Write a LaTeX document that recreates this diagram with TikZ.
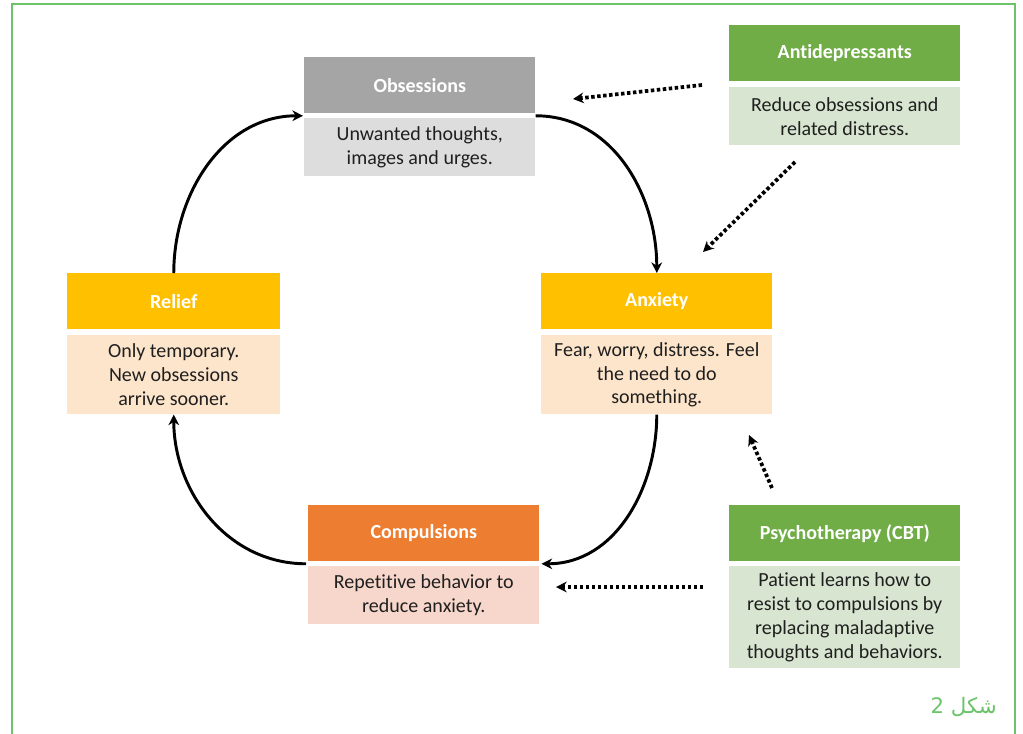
\documentclass[tikz,border=0pt]{standalone}
\usepackage{fontspec}
\setmainfont{Carlito}[Ligatures={NoCommon}]
\newfontfamily\arabicfont[Script=Arabic]{DejaVu Sans}
\TeXXeTstate=1
\usetikzlibrary{arrows.meta,calc}
\definecolor{frameG}{HTML}{6CC46A}
\definecolor{grayH}{HTML}{A5A5A5}
\definecolor{grayB}{HTML}{DDDDDD}
\definecolor{greenH}{HTML}{70AD47}
\definecolor{greenB}{HTML}{D8E5D0}
\definecolor{yellowH}{HTML}{FFC000}
\definecolor{yellowB}{HTML}{FDE5CC}
\definecolor{orangeH}{HTML}{ED7D31}
\definecolor{orangeB}{HTML}{F7D6CB}
\begin{document}
\begin{tikzpicture}[x=0.75pt,y=-0.75pt,
  hdr/.style={anchor=north west, inner sep=0pt, minimum width=173.25pt, minimum height=42pt,
    text=white, font=\fontsize{15}{17}\selectfont\bfseries},
  bdy/.style={anchor=north west, inner sep=0pt, minimum width=173.25pt, align=center,
    text=black!88, font=\fontsize{15}{17.8}\selectfont},
  cyc/.style={-{Stealth[length=8pt,width=8pt]}, line width=2.2pt},
  dotarrow/.style={-{Stealth[length=8pt,width=8pt]}, line width=2.8pt, dash pattern=on 2.6pt off 1.9pt},
]
\useasboundingbox (0,0) rectangle (1023,733);
\fill[white] (0,0) rectangle (1023,733);
\draw[frameG, line width=2.2pt] (12,740) -- (12,4) -- (1015,4) -- (1015,740);

% boxes
\node[hdr, fill=grayH] (hObs) at (304,57) {Obsessions};
\node[bdy, fill=grayB, minimum height=43.5pt] (bObs) at (304,118) {Unwanted thoughts,\\images and urges.};

\node[hdr, fill=greenH] (hAnti) at (729,25) {Antidepressants};
\node[bdy, fill=greenB, minimum height=43.5pt] (bAnti) at (729,87) {Reduce obsessions and\\related distress.};

\node[hdr, fill=yellowH, minimum width=159.75pt] (hRel) at (67,273) {Relief};
\node[bdy, fill=yellowB, minimum width=159.75pt, minimum height=59.25pt] (bRel) at (67,335) {Only temporary.\\New obsessions\\arrive sooner.};

\node[hdr, fill=yellowH] (hAnx) at (541,273) {Anxiety};
\node[bdy, fill=yellowB, minimum height=59.25pt] (bAnx) at (541,335) {Fear, worry, distress. Feel\\the need to do\\something.};

\node[hdr, fill=orangeH] (hComp) at (308,505) {Compulsions};
\node[bdy, fill=orangeB, minimum height=43.5pt] (bComp) at (308,566) {Repetitive behavior to\\reduce anxiety.};

\node[hdr, fill=greenH] (hPsy) at (729,505) {Psychotherapy (CBT)};
\node[bdy, fill=greenB, minimum height=76.5pt] (bPsy) at (729,566) {Patient learns how to\\resist to compulsions by\\replacing maladaptive\\thoughts and behaviors.};

% cycle connectors
\coordinate (oL) at ($(hObs.south west)!0.5!(bObs.north west)+(-1,0)$);
\coordinate (oR) at ($(hObs.south east)!0.5!(bObs.north east)$);
\coordinate (cL) at ($(hComp.south west)!0.5!(bComp.north west)+(-2,0)$);
\coordinate (cR) at ($(hComp.south east)!0.5!(bComp.north east)+(2,0)$);

\draw[cyc] (oR) to[out=0,in=90] (hAnx.north);
\draw[cyc] (bAnx.south) to[out=-90,in=0] (cR);
\draw[cyc] (cL) to[out=180,in=-90] (bRel.south);
\draw[cyc] (hRel.north) to[out=90,in=180] (oL);

% treatment connectors
\coordinate (d1s) at (702,85);
\coordinate (d1e) at (573,99);
\coordinate (d2s) at (795,162);
\coordinate (d2e) at (703,252);
\coordinate (d3s) at (772,488);
\coordinate (d3e) at (749,435);
\coordinate (d4s) at (703,587);
\coordinate (d4e) at (556,587);
\draw[dotarrow] (d1s) -- (d1e);
\draw[dotarrow] (d2s) -- (d2e);
\draw[dotarrow] (d3s) -- (d3e);
\draw[dotarrow] (d4s) -- (d4e);

% caption
\node[anchor=east, inner sep=0pt, text=frameG, font=\arabicfont\fontsize{16}{18}\selectfont] (cap) at (997,707) {\beginR شكل 2\endR};
\end{tikzpicture}
\end{document}
